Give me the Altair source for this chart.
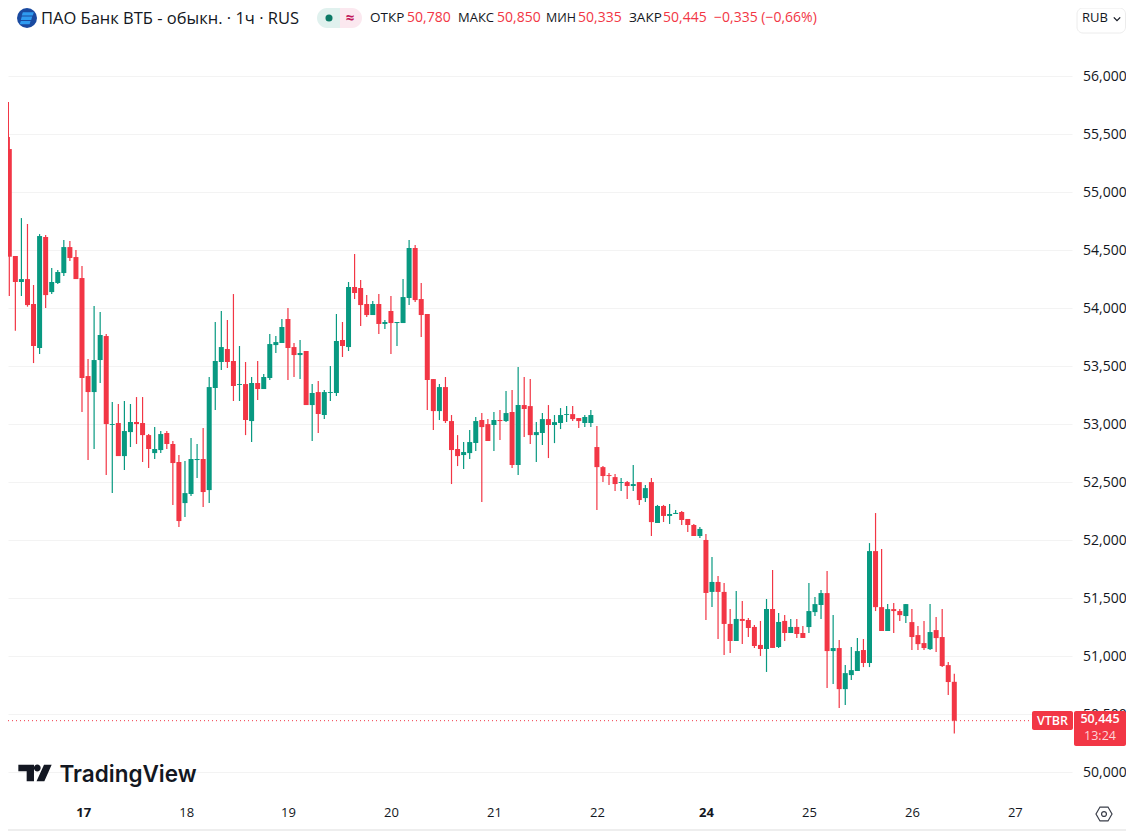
import altair as alt
import pandas as pd

# hourly candles, VTBR (prices as displayed on the axis)
opens = [55373,54451,54227,54252,54037,53658,54615,54140,54218,54304,54528,54442,54261,53416,53278,53554,53761,52994,53011,52726,52933,53020,53011,52907,52752,52778,
52925,52830,52675,52321,52399,52692,52701,52433,53313,53537,53649,53546,53339,53347,53028,53356,53304,53399,53683,53701,53908,53666,53597,53632,53166,53278,53080,53270,53270,53727,53666,54184,54175,54037,53942,54037,53865,53977,53873,53873,54089,54520,54080,53951,53390,53114,53321,53028,52787,52735,52752,52839,53037,53002,
52994,53037,53028,53106,52649,53166,53157,52907,52925,53045,52994,53011,53080,53088,53054,53011,53011,52804,52631,52562,52545,52494,52502,52468,52502,52364,52502,
52149,52296,52210,52227,52244,52184,52132,52037,52003,51555,51641,51555,51279,51132,51322,51313,51253,51098,51063,51408,51080,51305,51201,51253,51201,
51252,51381,51442,51545,51045,51071,50717,50838,50873,51054,50942,51907,51424,51218,51407,51390,51347,51295,51183,51114,51062,51226,51166,50924,50780]
highs = [55477,54451,54778,54727,54201,54640,54632,54347,54330,54589,54580,54502,54365,53563,54020,53968,53778,53192,53175,53201,53175,53235,53235,52916,52976,52942,
52942,52856,52735,52683,52882,52830,52968,53408,53882,53977,53899,54123,53675,53537,53408,53546,53433,53778,53761,53908,54002,53701,53727,53632,53347,53373,53295,53502,53951,53882,54227,54468,54244,54115,54063,54123,53899,54106,53882,54253,54589,54546,54218,53951,53390,53347,53408,53080,52907,52847,52951,53063,53097,53045,
53106,53123,53287,53295,53494,53407,53390,53019,53097,53166,53080,53140,53157,53157,53054,53080,53123,52985,52640,52580,52571,52537,52511,52649,52502,52476,52537,
52305,52305,52313,52262,52253,52184,52141,52115,52055,51856,51693,51632,51408,51563,51477,51330,51270,51305,51494,51744,51374,51356,51322,51322,51261,
51631,51511,51571,51735,51355,51140,50924,51080,51157,51149,51976,52235,51925,51450,51459,51407,51450,51407,51261,51304,51450,51338,51407,50950,50850]
lows = [54106,53807,54106,54014,53528,53606,54002,54123,54209,54278,54408,54252,53106,52692,52787,53356,52563,52407,52726,52606,52804,52830,52675,52623,52700,52752,
52787,52304,52114,52200,52382,52537,52287,52321,53123,53468,53485,53201,53201,52907,52847,53209,53304,53382,53615,53701,53382,53408,53390,53166,52856,52925,53045,53201,53244,53580,53632,54080,53847,53925,53942,53778,53821,53606,53675,53873,54028,54054,53752,53123,52951,53037,53011,52485,52640,52614,52701,52770,52330,52856,
52769,52864,53019,52623,52562,52890,52830,52675,52821,52709,52838,52959,53019,53028,52968,52976,52976,52261,52502,52476,52425,52425,52356,52425,52304,52330,52037,
52149,52158,52141,52227,52132,52072,52037,52020,51313,51425,51149,51011,51029,51132,51106,51167,51072,51003,50865,51072,51072,51132,51201,51158,51158,
51200,51347,51321,50726,50761,50554,50580,50795,50873,50907,50907,51390,51218,51218,51200,51304,51287,51054,51054,51054,51054,51036,50907,50666,50335]
closes = [54445,54227,54252,54028,53675,54623,54114,54227,54313,54528,54434,54252,53399,53278,53554,53770,53002,53002,52726,52942,53020,53002,52907,52787,52787,52916,
52830,52666,52166,52407,52701,52701,52416,53321,53546,53666,53537,53330,53347,53037,53356,53304,53408,53692,53709,53839,53658,53597,53615,53166,53270,53089,53278,53278,53718,53675,54184,54132,54028,53942,54037,53865,53882,53873,53882,54097,54520,54071,53942,53382,53114,53321,53028,52778,52726,52761,52847,53028,52976,52856,
53037,53028,53097,52649,53166,53132,52907,52933,53045,52994,53019,53080,53088,53045,53028,53063,53080,52631,52554,52554,52485,52502,52468,52485,52347,52450,52157,
52296,52210,52227,52236,52175,52132,52037,52098,51546,51641,51555,51279,51132,51322,51305,51244,51089,51063,51408,51072,51296,51201,51253,51192,51158,
51390,51450,51545,51045,51071,50717,50855,50881,51045,50942,51907,51424,51218,51407,51390,51355,51450,51166,51105,51071,51209,51157,50916,50778,50445]
first_wick = [55779, 55365]      # the candle cut off by the left edge

y_ticks = [50000,50500,51000,51500,52000,52500,53000,53500,54000,54500,55000,55500,56000]
day_labels = ['17','18','19','20','21','22','24','25','26','27']
day_ticks = [13.2,30.2,47,64,81,98,116,133,150,167]

RED, GREEN = '#f23645', '#089981'
INK = '#131722'
FONT = 'Open Sans'

n = len(closes)
df = pd.DataFrame({'i': list(range(1, n + 1)), 'o': opens, 'h': highs, 'l': lows, 'c': closes})
df['up'] = df['c'] > df['o']
wick0 = pd.DataFrame({'i': [0.85], 'h': [first_wick[0]], 'l': [first_wick[1]]})

X_SCALE = alt.Scale(domain=[0.785, 176.43], nice=False, zero=False, padding=0)
Y_SCALE = alt.Scale(domain=[49787, 56589], nice=False, zero=False, padding=0)
names = "['" + "','".join(day_labels) + "']"
where = "[" + ",".join(str(t) for t in day_ticks) + "]"
X_AXIS = alt.Axis(
    orient='bottom', values=day_ticks, title=None, domain=False, ticks=False, grid=False,
    labelPadding=9, labelFontSize=13, labelColor=INK, labelFont=FONT,
    labelFontWeight={'condition': {'test': "datum.value == 13.2 || datum.value == 116", 'value': 'bold'}, 'value': 'normal'},
    labelExpr=f"{names}[indexof({where}, datum.value)]")
Y_AXIS = alt.Axis(
    orient='right', values=y_ticks, format=',.0f', title=None, domain=False, ticks=False,
    labelPadding=10.5, labelFontSize=14, labelColor=INK, labelFont=FONT, labelFontWeight=500,
    grid=True, gridColor='#f3f3f3', gridWidth=1)
X = alt.X('i:Q', scale=X_SCALE, axis=X_AXIS)
color = alt.Color('up:N', scale=alt.Scale(domain=[True, False], range=[GREEN, RED]), legend=None)

one = pd.DataFrame({'a': [0]})

def Yq(f):
    return alt.Y(f, scale=Y_SCALE, axis=Y_AXIS)

def px(v):
    return alt.value(v - 8)

def text(t, x, y, size=14, col=INK, weight='normal', align='left', font=FONT):
    return alt.Chart(pd.DataFrame({'t': [t]})).mark_text(
        fontSize=size, color=col, fontWeight=weight, align=align, baseline='middle', font=font
    ).encode(x=px(x), y=px(y), text='t:N')

def box(x1, x2, y1, y2, col, **kw):
    return alt.Chart(one).mark_rect(color=col, **kw).encode(x=px(x1), x2=px(x2), y=px(y1), y2=px(y2))

def sym(path, x, y, size, **kw):
    return alt.Chart(one).mark_point(shape=path, size=size, **kw).encode(x=px(x), y=px(y))

wicks = alt.Chart(df).mark_rule(strokeWidth=1.2).encode(x=X, y=Yq('l:Q'), y2='h:Q', color=color)
wick_first = alt.Chart(wick0).mark_rule(strokeWidth=1.2, color=RED).encode(x=X, y=Yq('l:Q'), y2='h:Q')
bodies = alt.Chart(df).transform_calculate(
    top='max(datum.o, datum.c)', bot='min(datum.o, datum.c)'
).mark_bar(size=5, orient='vertical').encode(x=X, y=Yq('top:Q'), y2='bot:Q', color=color)

last = alt.Chart(pd.DataFrame({'p': [closes[-1]]})).mark_rule(color=RED, strokeDash=[1, 3], strokeWidth=1).encode(
    y=Yq('p:Q'), x=px(8), x2=px(1032))

STRIPES = ('M-0.42 -0.58 L0.68 -0.58 L0.58 -0.24 L-0.52 -0.24 Z '
           'M-0.52 -0.14 L0.52 -0.14 L0.42 0.2 L-0.62 0.2 Z '
           'M-0.62 0.3 L0.36 0.3 L0.26 0.62 L-0.72 0.62 Z')
TV = ('M-0.98 -0.547 L-0.06 -0.547 L-0.06 0.43 L-0.49 0.43 L-0.49 -0.158 L-0.98 -0.158 Z '
      'M-0.065 -0.353 A0.2 0.2 0 1 0 0.335 -0.353 A0.2 0.2 0 1 0 -0.065 -0.353 Z '
      'M0.53 -0.547 L0.98 -0.547 L0.55 0.43 L0.09 0.43 Z')
HEX = 'M-1 0 L-0.5 -0.87 L0.5 -0.87 L1 0 L0.5 0.87 L-0.5 0.87 Z'

deco = [
    sym('circle', 27, 18, 400, filled=True, color='#1a4aa0', opacity=1),
    sym(STRIPES, 27, 18, 400, filled=True, color='#2f9bf0', opacity=1),
    text('ПАО Банк ВТБ - обыкн. · 1ч · RUS', 41, 19, size=16.5, weight=500),
    box(317, 340, 8, 28, '#e0f1ee', cornerRadiusTopLeft=10, cornerRadiusBottomLeft=10),
    box(340, 362, 8, 28, '#fbe8ef', cornerRadiusTopRight=10, cornerRadiusBottomRight=10),
    sym('circle', 329, 18, 50, filled=True, color='#0b7a66', opacity=1),
    text('≈', 350, 18, size=15, col='#c2185b', weight='bold', align='center'),
    text('ОТКР', 370, 18, size=13.5), text('50,780', 407, 18, col=RED),
    text('МАКС', 458, 18, size=13), text('50,850', 497, 18, col=RED),
    text('МИН', 546, 18, size=12.5), text('50,335', 578, 18, col=RED),
    text('ЗАКР', 629, 18, size=13.5), text('50,445', 663, 18, col=RED),
    text('−0,335 (−0,66%)', 714, 18, col=RED),
    alt.Chart(one).mark_rect(fill='white', stroke='#ececec', cornerRadius=6).encode(x=px(1077), x2=px(1125.5), y=px(8), y2=px(33)),
    text('RUB', 1082, 18, size=13),
    sym('M-0.8 -0.4 L0 0.4 L0.8 -0.4', 1117, 19, 64, filled=False, color=INK, strokeWidth=1.3, opacity=1),
    box(1032, 1073, 711, 730, RED, cornerRadius=2),
    text('VTBR', 1052.5, 720.5, size=12.5, col='white', weight=600, align='center'),
    box(1074, 1126, 711, 746, RED, cornerRadius=2),
    text('50,445', 1100, 719, size=12.5, col='white', weight=600, align='center'),
    text('13:24', 1100, 735.5, size=12.5, col='#fcd5d9', align='center'),
    sym(TV, 35, 774, 1156, filled=True, color=INK, opacity=1),
    text('TradingView', 59.5, 775, size=22.5, weight=600, font='Inter'),
    sym(HEX, 1104, 814, 256, filled=False, color='#3a3e49', strokeWidth=1.2, opacity=1),
    sym('circle', 1104, 814, 24, filled=False, color='#3a3e49', strokeWidth=1.2, opacity=1),
    box(8, 1126, 829, 831, '#eeeeee'),
]

chart = alt.layer(last, wicks, wick_first, bodies, *deco).properties(
    width=1064, height=789,
    padding={'left': 0, 'top': 0, 'right': 54, 'bottom': 34},
    autosize=alt.AutoSizeParams(type='none'),
).configure_view(stroke=None)

chart.save("out.html", embed_options={"renderer": "svg", "actions": False})
